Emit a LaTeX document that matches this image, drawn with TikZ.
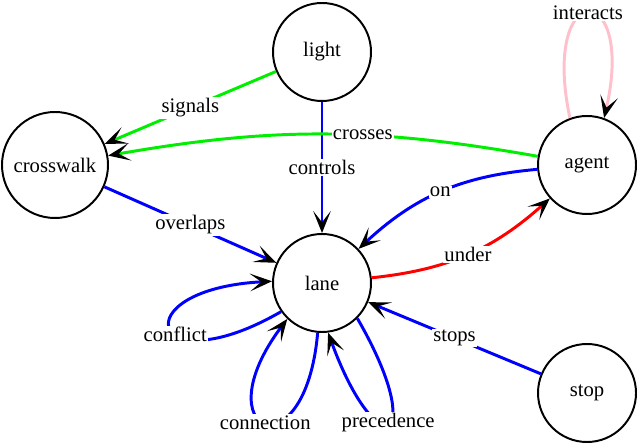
\documentclass[tikz,border=0pt]{standalone}
\usepackage{fontspec}
\setmainfont{Liberation Serif}
\usetikzlibrary{arrows.meta}
\definecolor{gvgreen}{RGB}{0,238,0}
\definecolor{gvpink}{RGB}{255,192,203}

\begin{document}
\begin{tikzpicture}[font=\fontsize{14.7}{17}\selectfont,
  town/.style={draw,circle,line width=1.4pt,minimum size=2.45cm},
  tag/.style={fill=white,text=black,inner sep=1pt},
  link/.style={line width=2.1pt,-{Stealth[black,length=0.55cm,width=0.44cm,inset=0.28cm]}}]
\useasboundingbox (0,0) rectangle (16,11.175);
\node[town] (light) at (8.05,9.875){light};
\node[town,minimum size=2.65cm] (crosswalk) at (1.375,7.05){crosswalk};
\node[town] (agent) at (14.675,7.05){agent};
\node[town] (lane) at (8.05,4.1){lane};
\node[town] (stop) at (14.675,1.35){stop};
\draw [link,gvgreen](light) -- node[tag]{signals} (crosswalk);
\draw [link,blue](light) -- node[tag]{controls} (lane);
\draw [link,gvgreen](agent) to[bend right=10] node[tag,pos=0.4]{crosses} (crosswalk);
\draw [link,blue](crosswalk) -- node[tag]{overlaps} (lane);
\draw [link,blue](agent) to[bend right=19] node[tag]{on} (lane);
\draw [link,red](lane) to[bend right=18] node[tag]{under} (agent);
\draw [link,blue](stop) -- node[tag]{stops} (lane);
\draw [link,gvpink](agent.110) to[out=102,in=77,distance=3.6cm] node[tag]{interacts} (agent.70);
\draw [link,blue](lane.215) to[out=210,in=183,distance=3.8cm] node[tag,pos=0.42]{conflict} (lane.178);
\draw [link,blue](lane.265) to[out=265,in=233,distance=3.6cm] node[tag]{connection} (lane.226);
\draw [link,blue](lane.315) to[out=300,in=290,distance=3.6cm] node[tag]{precedence} (lane.277);
\end{tikzpicture}
\end{document}
